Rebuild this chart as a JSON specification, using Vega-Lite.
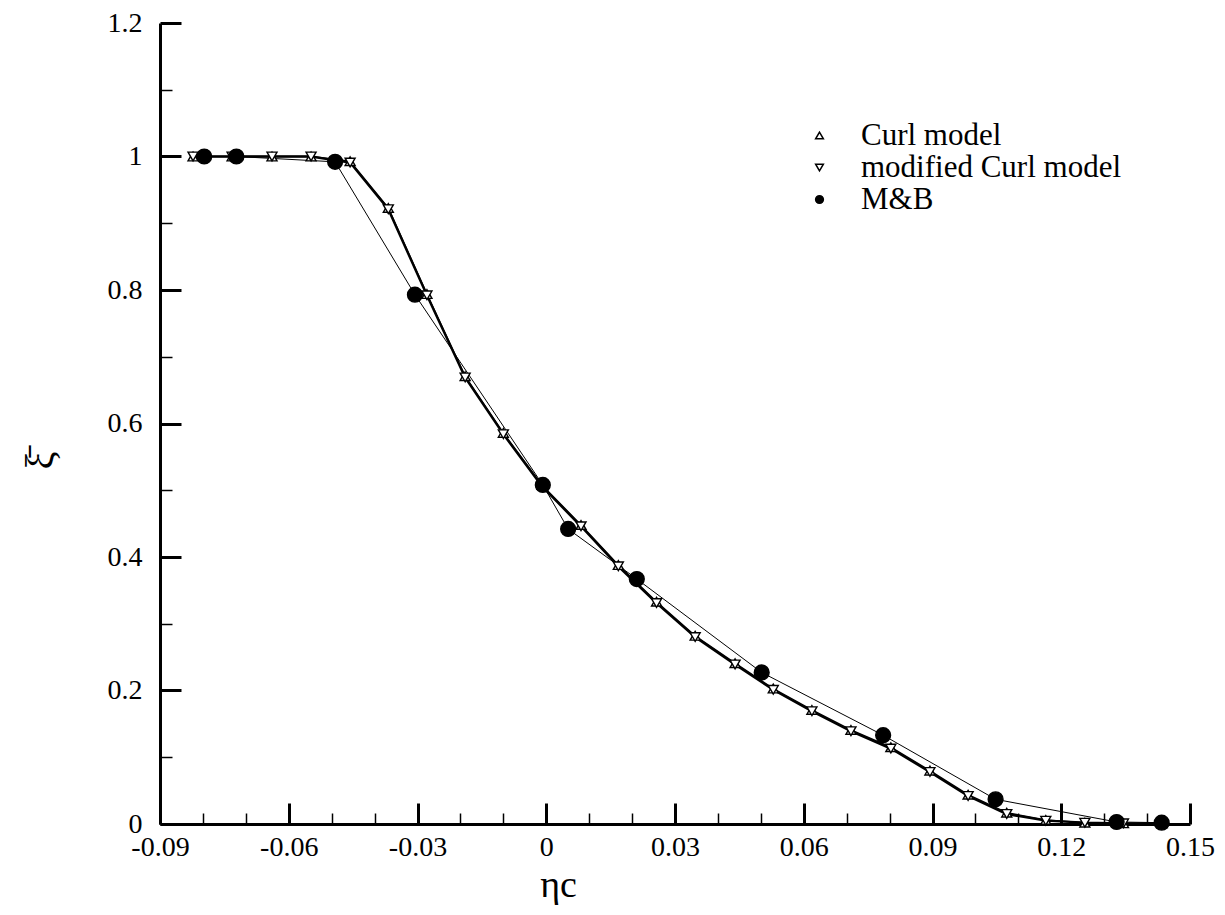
{
  "$schema": "https://vega.github.io/schema/vega-lite/v6.json",
  "width": 1030,
  "height": 801,
  "autosize": {"type": "none"},
  "padding": {"left": 160, "top": 23, "right": 35, "bottom": 91},
  "background": "white",
  "config": {
    "view": {"stroke": null},
    "font": "Liberation Serif"
  },
  "data": {
    "values": [
      {"series": "Curl model", "x": -0.0823, "y": 1.0},
      {"series": "Curl model", "x": -0.0732, "y": 1.0},
      {"series": "Curl model", "x": -0.0639, "y": 1.0},
      {"series": "Curl model", "x": -0.0548, "y": 1.0},
      {"series": "Curl model", "x": -0.0457, "y": 0.993},
      {"series": "Curl model", "x": -0.0368, "y": 0.923},
      {"series": "Curl model", "x": -0.0278, "y": 0.794},
      {"series": "Curl model", "x": -0.0189, "y": 0.671},
      {"series": "Curl model", "x": -0.0100, "y": 0.586},
      {"series": "Curl model", "x": -0.0010, "y": 0.508},
      {"series": "Curl model", "x": 0.0081, "y": 0.448},
      {"series": "Curl model", "x": 0.0168, "y": 0.388},
      {"series": "Curl model", "x": 0.0257, "y": 0.333},
      {"series": "Curl model", "x": 0.0347, "y": 0.282},
      {"series": "Curl model", "x": 0.0440, "y": 0.241},
      {"series": "Curl model", "x": 0.0529, "y": 0.203},
      {"series": "Curl model", "x": 0.0619, "y": 0.171},
      {"series": "Curl model", "x": 0.0710, "y": 0.141},
      {"series": "Curl model", "x": 0.0803, "y": 0.115},
      {"series": "Curl model", "x": 0.0894, "y": 0.080},
      {"series": "Curl model", "x": 0.0983, "y": 0.044},
      {"series": "Curl model", "x": 0.1073, "y": 0.017},
      {"series": "Curl model", "x": 0.1164, "y": 0.006},
      {"series": "Curl model", "x": 0.1255, "y": 0.002},
      {"series": "Curl model", "x": 0.1345, "y": 0.001},
      {"series": "Curl model", "x": 0.1435, "y": 0.001},
      {"series": "modified Curl model", "x": -0.0823, "y": 1.0},
      {"series": "modified Curl model", "x": -0.0732, "y": 1.0},
      {"series": "modified Curl model", "x": -0.0639, "y": 1.0},
      {"series": "modified Curl model", "x": -0.0548, "y": 1.0},
      {"series": "modified Curl model", "x": -0.0457, "y": 0.991},
      {"series": "modified Curl model", "x": -0.0368, "y": 0.921},
      {"series": "modified Curl model", "x": -0.0278, "y": 0.792},
      {"series": "modified Curl model", "x": -0.0189, "y": 0.669},
      {"series": "modified Curl model", "x": -0.0100, "y": 0.584},
      {"series": "modified Curl model", "x": -0.0010, "y": 0.506},
      {"series": "modified Curl model", "x": 0.0081, "y": 0.446},
      {"series": "modified Curl model", "x": 0.0168, "y": 0.386},
      {"series": "modified Curl model", "x": 0.0257, "y": 0.331},
      {"series": "modified Curl model", "x": 0.0347, "y": 0.280},
      {"series": "modified Curl model", "x": 0.0440, "y": 0.239},
      {"series": "modified Curl model", "x": 0.0529, "y": 0.201},
      {"series": "modified Curl model", "x": 0.0619, "y": 0.169},
      {"series": "modified Curl model", "x": 0.0710, "y": 0.139},
      {"series": "modified Curl model", "x": 0.0803, "y": 0.113},
      {"series": "modified Curl model", "x": 0.0894, "y": 0.078},
      {"series": "modified Curl model", "x": 0.0983, "y": 0.042},
      {"series": "modified Curl model", "x": 0.1073, "y": 0.015},
      {"series": "modified Curl model", "x": 0.1164, "y": 0.005},
      {"series": "modified Curl model", "x": 0.1255, "y": 0.002},
      {"series": "modified Curl model", "x": 0.1345, "y": 0.001},
      {"series": "modified Curl model", "x": 0.1435, "y": 0.001},
      {"series": "M&B", "x": -0.0797, "y": 1.0},
      {"series": "M&B", "x": -0.0722, "y": 1.0},
      {"series": "M&B", "x": -0.0492, "y": 0.992},
      {"series": "M&B", "x": -0.0306, "y": 0.793},
      {"series": "M&B", "x": -0.0008, "y": 0.508},
      {"series": "M&B", "x": 0.0051, "y": 0.442},
      {"series": "M&B", "x": 0.0211, "y": 0.367},
      {"series": "M&B", "x": 0.0502, "y": 0.227},
      {"series": "M&B", "x": 0.0785, "y": 0.133},
      {"series": "M&B", "x": 0.1047, "y": 0.037},
      {"series": "M&B", "x": 0.1329, "y": 0.003},
      {"series": "M&B", "x": 0.1434, "y": 0.002}
    ]
  },
  "encoding": {
    "x": {
      "field": "x", "type": "quantitative",
      "scale": {"domain": [-0.09, 0.15], "nice": false, "zero": false},
      "axis": {
        "title": "ηc",
        "titleFont": "Liberation Serif",
        "titleFontSize": 38,
        "titleFontWeight": "normal",
        "titleColor": "black",
        "titleX": 398,
        "titleY": 42,
        "values": [-0.09, -0.08, -0.07, -0.06, -0.05, -0.04, -0.03, -0.02, -0.01, 0, 0.01, 0.02, 0.03, 0.04, 0.05, 0.06, 0.07, 0.08, 0.09, 0.1, 0.11, 0.12, 0.13, 0.14, 0.15],
        "labelExpr": "abs(round(datum.value*100)) % 3 == 0 ? toString(round(datum.value*100)/100) : ''",
        "labelFont": "Liberation Serif",
        "labelFontSize": 28,
        "labelColor": "black",
        "labelPadding": 30,
        "labelOverlap": false,
        "labelFlush": false,
        "grid": false,
        "domainColor": "black",
        "domainWidth": 3,
        "tickColor": "black",
        "tickSize": {"condition": {"test": "abs(round(datum.value*100)) % 3 == 0", "value": -21}, "value": -11},
        "tickWidth": {"condition": {"test": "abs(round(datum.value*100)) % 3 == 0", "value": 3}, "value": 1.5}
      }
    },
    "y": {
      "field": "y", "type": "quantitative",
      "scale": {"domain": [0, 1.2], "nice": false},
      "axis": {
        "title": "ξ̄",
        "titleFont": "Liberation Serif",
        "titleFontSize": 40,
        "titleFontWeight": "normal",
        "titleColor": "black",
        "titleX": -100,
        "titleY": 437,
        "titleAngle": -90,
        "values": [0, 0.1, 0.2, 0.3, 0.4, 0.5, 0.6, 0.7, 0.8, 0.9, 1.0, 1.1, 1.2],
        "labelExpr": "round(datum.value*10) % 2 == 0 ? toString(round(datum.value*10)/10) : ''",
        "labelFont": "Liberation Serif",
        "labelFontSize": 28,
        "labelColor": "black",
        "labelPadding": 39,
        "labelOverlap": false,
        "labelFlush": false,
        "grid": false,
        "domainColor": "black",
        "domainWidth": 3,
        "tickColor": "black",
        "tickSize": {"condition": {"test": "round(datum.value*10) % 2 == 0", "value": -21}, "value": -12},
        "tickWidth": {"condition": {"test": "round(datum.value*10) % 2 == 0", "value": 3}, "value": 1.5}
      }
    }
  },
  "layer": [
    {
      "mark": {"type": "line", "color": "black", "clip": false},
      "encoding": {
        "detail": {"field": "series"},
        "order": {"field": "x", "type": "quantitative"},
        "strokeWidth": {
          "condition": [
            {"test": "datum.series === 'modified Curl model'", "value": 2.4},
            {"test": "datum.series === 'Curl model'", "value": 1.4}
          ],
          "value": 1.0
        }
      }
    },
    {
      "mark": {"type": "point", "filled": true, "stroke": "black", "strokeWidth": 1.4, "opacity": 1, "fillOpacity": 1, "clip": false},
      "encoding": {
        "shape": {
          "field": "series", "type": "nominal",
          "scale": {"domain": ["Curl model", "modified Curl model", "M&B"], "range": ["triangle-up", "triangle-down", "circle"]},
          "legend": {
            "title": null,
            "orient": "none",
            "legendX": 644,
            "legendY": 97,
            "padding": 0,
            "labelFont": "Liberation Serif",
            "labelFontSize": 31,
            "labelColor": "black",
            "labelLimit": 500,
            "labelOffset": 26,
            "rowPadding": 0,
            "symbolSize": 60,
            "encode": {
              "symbols": {
                "update": {
                  "stroke": {"value": "black"},
                  "strokeWidth": {"value": 1.4},
                  "strokeOpacity": {"value": 1}
                }
              }
            }
          }
        },
        "fill": {
          "field": "series", "type": "nominal",
          "scale": {"domain": ["Curl model", "modified Curl model", "M&B"], "range": ["white", "white", "black"]},
          "legend": {
            "title": null,
            "orient": "none",
            "legendX": 644,
            "legendY": 97,
            "padding": 0,
            "labelFont": "Liberation Serif",
            "labelFontSize": 31,
            "labelColor": "black",
            "labelLimit": 500,
            "labelOffset": 26,
            "rowPadding": 0,
            "symbolSize": 60,
            "encode": {
              "symbols": {
                "update": {
                  "stroke": {"value": "black"},
                  "strokeWidth": {"value": 1.4},
                  "strokeOpacity": {"value": 1}
                }
              }
            }
          }
        },
        "size": {
          "condition": {"test": "datum.series === 'M&B'", "value": 220},
          "value": 100
        }
      }
    }
  ]
}
